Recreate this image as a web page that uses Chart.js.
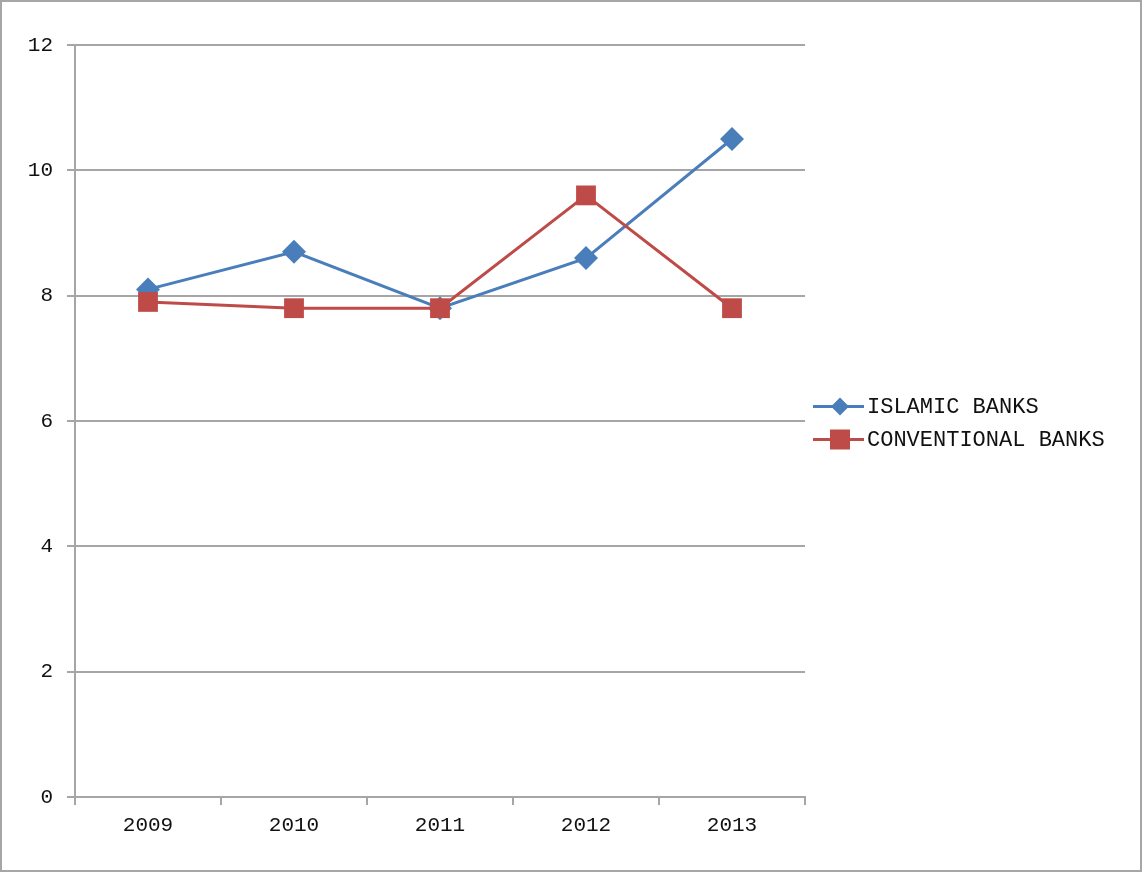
<!DOCTYPE html>
<html>
<head>
<meta charset="utf-8">
<script src="https://cdn.jsdelivr.net/npm/chart.js@4.4.0/dist/chart.umd.min.js"></script>
<style>
  html, body { margin: 0; padding: 0; background: #fff; }
  .wrap { position: relative; width: 1142px; height: 872px; }
  .frame { position: absolute; left: 0; top: 0; width: 1142px; height: 872px; box-sizing: border-box; border: 2px solid #a6a6a6; pointer-events: none; }
</style>
</head>
<body>
<div class="wrap">
  <canvas id="myChart" width="1142" height="872"></canvas>
  <div class="frame"></div>
</div>
<script>
const years = ['2009', '2010', '2011', '2012', '2013'];
const islamicBanks = [8.1, 8.7, 7.8, 8.6, 10.5];
const conventionalBanks = [7.9, 7.8, 7.8, 9.6, 7.8];
const seriesNames = ['ISLAMIC BANKS', 'CONVENTIONAL BANKS'];

const blue = '#4a7ebb';
const red = '#be4b48';
const gridGray = '#a6a6a6';
const fontFamily = '"Liberation Mono", "DejaVu Sans Mono", monospace';

// legend on the right: line segment with the marker, then the name
const sideLegend = {
    id: 'sideLegend',
    afterDraw(chart) {
        const ctx = chart.ctx;
        const area = chart.chartArea;
        const x0 = area.right + 8;
        const midY = (area.top + area.bottom) / 2;
        const rowH = 33;
        const startY = midY - rowH / 2 + 2;
        ctx.save();
        chart.data.datasets.forEach((ds, i) => {
            const y = startY + i * rowH;
            ctx.strokeStyle = ds.borderColor;
            ctx.lineWidth = 3;
            ctx.beginPath();
            ctx.moveTo(x0, y);
            ctx.lineTo(x0 + 51, y);
            ctx.stroke();
            ctx.fillStyle = ds.borderColor;
            ctx.beginPath();
            const cx = x0 + 27;
            if (ds.pointStyle === 'rectRot') {
                ctx.moveTo(cx, y - 9); ctx.lineTo(cx + 9, y); ctx.lineTo(cx, y + 9); ctx.lineTo(cx - 9, y);
            } else {
                ctx.rect(cx - 10, y - 10, 20, 20);
            }
            ctx.closePath();
            ctx.fill();
            ctx.fillStyle = '#111';
            ctx.font = '22px ' + fontFamily;
            ctx.textBaseline = 'middle';
            ctx.textAlign = 'left';
            ctx.fillText(ds.label, x0 + 54, y + 1);
        });
        ctx.restore();
    }
};

const canvas = document.getElementById('myChart');
const chart = new Chart(canvas, {
    type: 'line',
    data: {
        labels: years,
        datasets: [{
            label: seriesNames[0],
            data: islamicBanks,
            borderColor: blue,
            backgroundColor: blue,
            borderWidth: 3,
            pointStyle: 'rectRot',
            pointRadius: 12,
            pointBorderWidth: 0,
            tension: 0,
            order: 1
        }, {
            label: seriesNames[1],
            data: conventionalBanks,
            borderColor: red,
            backgroundColor: red,
            borderWidth: 3,
            pointStyle: 'rect',
            pointRadius: 14,
            pointBorderWidth: 0,
            tension: 0,
            order: 0
        }]
    },
    options: {
        responsive: false,
        animation: false,
        layout: { padding: { top: 45, left: 0, right: 337, bottom: 35 } },
        plugins: {
            tooltip: { enabled: false },
            legend: { display: false }
        },
        scales: {
            x: {
                offset: true,
                grid: { offset: true, drawOnChartArea: false, drawTicks: true, tickLength: 8, color: gridGray, lineWidth: 2 },
                border: { display: true, color: gridGray, width: 2 },
                ticks: { color: '#111', padding: 8, font: { family: fontFamily, size: 21 } },
                afterFit: (s) => { s.height = 40; }
            },
            y: {
                min: 0,
                max: 12,
                ticks: { stepSize: 2, color: '#111', padding: 14, font: { family: fontFamily, size: 21 } },
                grid: { color: gridGray, lineWidth: 2, tickLength: 8 },
                border: { display: true, color: gridGray, width: 2 },
                afterFit: (s) => { s.width = 75; }
            }
        }
    },
    plugins: [sideLegend]
});
</script>
</body>
</html>
